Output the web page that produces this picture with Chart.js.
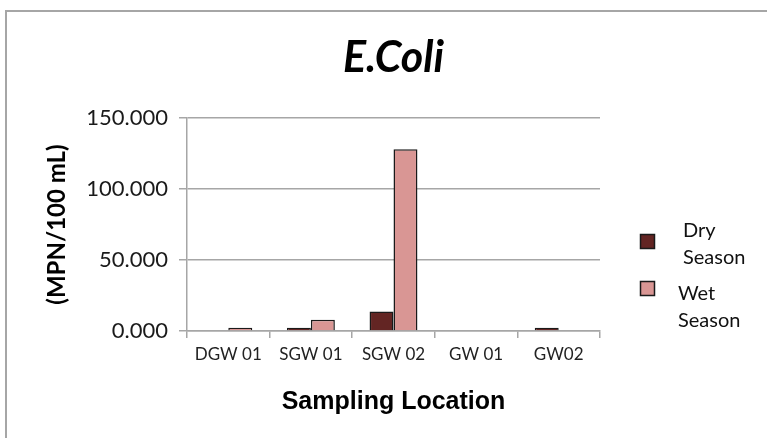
<!DOCTYPE html>
<html>
<head>
<meta charset="utf-8">
<script src="https://cdn.jsdelivr.net/npm/chart.js@4/dist/chart.umd.min.js"></script>
<style>
  html, body { margin: 0; padding: 0; background: #fff; }
  #wrap { position: relative; width: 767px; height: 438px; }
</style>
</head>
<body>
<div id="wrap"><canvas id="c" width="767" height="438"></canvas></div>
<script>
const categories = ['DGW 01', 'SGW 01', 'SGW 02', 'GW 01', 'GW02'];
const drySeason = [0, 2.3, 13.8, 0, 2.3];
const wetSeason = [2.3, 8.0, 128.0, 0, 0];
const seriesNames = ['Dry Season', 'Wet Season'];
const yTickValues = [0, 50, 100, 150];
const yTickLabels = ['0.000', '50.000', '100.000', '150.000'];
const chartTitle = 'E.Coli';

const frame = {
  id: 'frame',
  beforeDraw(chart) {
    const ctx = chart.ctx;
    ctx.save();
    ctx.fillStyle = '#ffffff';
    ctx.fillRect(0, 0, chart.width, chart.height);
    ctx.strokeStyle = '#a6a6a6';
    ctx.lineWidth = 2;
    ctx.strokeRect(6, 11, chart.width + 10, chart.height + 10);
    ctx.restore();
  }
};

const centeredTitle = {
  id: 'centeredTitle',
  afterDraw(chart) {
    const ctx = chart.ctx;
    const a = chart.chartArea;
    ctx.save();
    ctx.fillStyle = '#000';
    ctx.font = 'italic bold 43px Lato';
    ctx.textAlign = 'center';
    ctx.textBaseline = 'middle';
    ctx.fillText(chartTitle, (a.left + a.right) / 2, 58);
    ctx.restore();
  }
};

const sideLegend = {
  id: 'sideLegend',
  afterDraw(chart) {
    const ctx = chart.ctx;
    ctx.save();
    chart.data.datasets.forEach((ds, i) => {
      const bx = 640, by = 234 + i * 47;
      ctx.fillStyle = ds.backgroundColor;
      ctx.fillRect(bx, by, 14, 14);
      ctx.strokeStyle = '#1a1a1a';
      ctx.lineWidth = 1.5;
      ctx.strokeRect(bx + 0.5, by + 0.5, 14, 14);
      ctx.fillStyle = '#111';
      ctx.font = '20px Lato';
      ctx.textBaseline = 'middle';
      ctx.textAlign = 'left';
      const lines = ds.label.split(' ');
      const tx = i === 0 ? 683 : 678;
      const ty = 231 + i * 63;
      lines.forEach((ln, k) => ctx.fillText(ln, tx, ty + k * 27));
    });
    ctx.restore();
  }
};

new Chart(document.getElementById('c'), {
  type: 'bar',
  data: {
    labels: categories,
    datasets: [
      { label: seriesNames[0], data: drySeason, backgroundColor: '#632523', borderColor: '#1a1a1a', borderWidth: 1.5 },
      { label: seriesNames[1], data: wetSeason, backgroundColor: '#d99694', borderColor: '#1a1a1a', borderWidth: 1.5 }
    ]
  },
  options: {
    responsive: false,
    animation: false,
    devicePixelRatio: 1,
    layout: { padding: { left: 0, right: 167, top: 118, bottom: 20 } },
    datasets: { bar: { barPercentage: 1, categoryPercentage: 0.58 } },
    plugins: {
      legend: { display: false },
      tooltip: { enabled: false },
      title: { display: false }
    },
    scales: {
      x: {
        afterFit(s) { s.height = 87; },
        grid: { offset: true, drawOnChartArea: false, drawTicks: true, tickLength: 7, color: '#a6a6a6', lineWidth: 1.5 },
        border: { display: true, color: '#a6a6a6', width: 1.5 },
        ticks: { color: '#222', font: { family: 'Lato', size: 17 }, padding: 6, maxRotation: 0, autoSkip: false },
        title: {
          display: true,
          text: 'Sampling Location',
          color: '#000',
          font: { family: 'Liberation Sans', size: 25, weight: 'bold' },
          padding: { top: 0, bottom: 1 }
        }
      },
      y: {
        min: 0,
        max: 150,
        afterFit(s) { s.width = 187; },
        afterBuildTicks(s) { s.ticks = yTickValues.map(v => ({ value: v })); },
        grid: { color: '#a6a6a6', lineWidth: 1.5, drawTicks: true, tickLength: 8 },
        border: { display: true, color: '#a6a6a6', width: 1.5 },
        ticks: {
          color: '#1a1a1a',
          font: { family: 'Lato', size: 22 },
          padding: 11,
          callback(v) { const i = yTickValues.indexOf(v); return i >= 0 ? yTickLabels[i] : ''; }
        },
        title: {
          display: true,
          text: '(MPN/100 mL)',
          color: '#000',
          font: { family: 'Lato', size: 24, weight: 'bold' },
          padding: { top: 43, bottom: 0 }
        }
      }
    }
  },
  plugins: [frame, centeredTitle, sideLegend]
});
</script>
</body>
</html>
